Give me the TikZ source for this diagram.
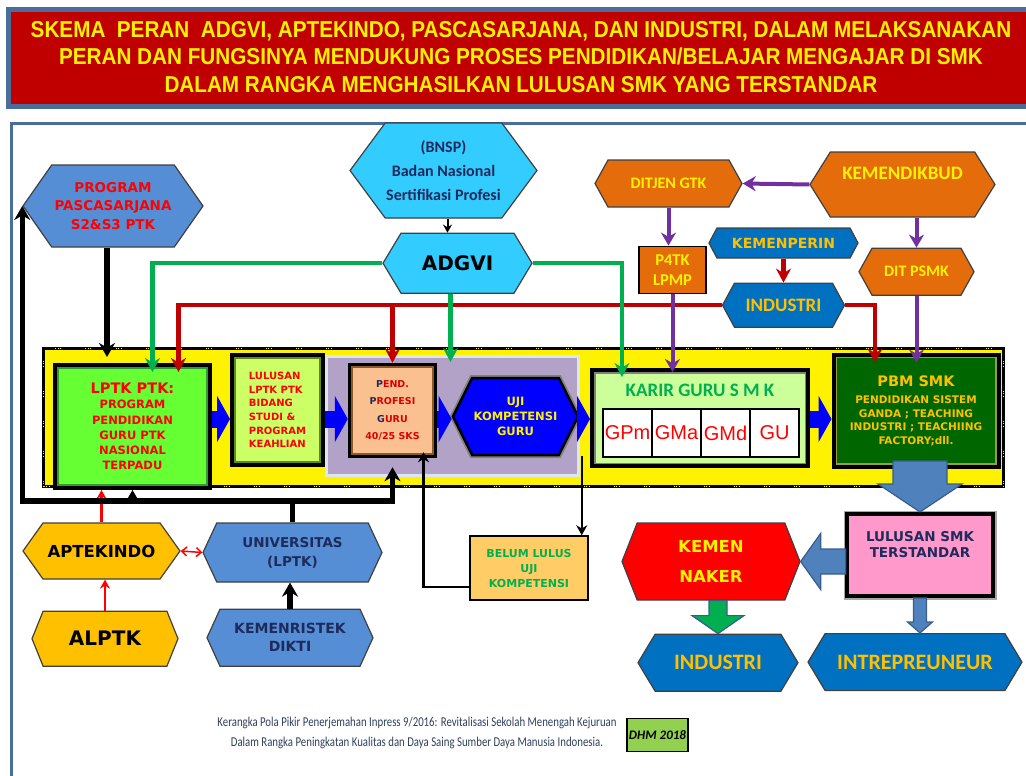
\documentclass[tikz,border=0pt]{standalone}
\usepackage{fontspec}
\usepackage{graphicx}
\setmainfont{DejaVu Sans}
\newfontfamily\calib{Carlito}
\newfontfamily\arialf{Liberation Sans}
\usetikzlibrary{positioning, calc}
\usetikzlibrary{shapes.symbols, arrows.meta}

\newcommand{\fsz}[2]{\fontsize{#1}{#2}\selectfont}

\definecolor{titlered}{HTML}{C00000}
\definecolor{framesteel}{HTML}{4A6D9A}
\definecolor{hexsteel}{HTML}{558ED5}
\definecolor{hexcyan}{HTML}{33CCFF}
\definecolor{hexorange}{HTML}{E46C0A}
\definecolor{hexblue}{HTML}{0070C0}
\definecolor{hexgold}{HTML}{FFC000}
\definecolor{lptkgreen}{HTML}{66FF33}
\definecolor{lptkdark}{HTML}{339933}
\definecolor{limefill}{HTML}{CCFF66}
\definecolor{limedark}{HTML}{5F8A1C}
\definecolor{lilac}{HTML}{B3A2C7}
\definecolor{paleblue}{HTML}{DCE6F2}
\definecolor{peach}{HTML}{FAC090}
\definecolor{peachdark}{HTML}{8B5A2B}
\definecolor{karirfill}{HTML}{CCFF99}
\definecolor{pbmgreen}{HTML}{006600}
\definecolor{pbmedge}{HTML}{9C9C3A}
\definecolor{pinkfill}{HTML}{FF99CC}
\definecolor{belumfill}{HTML}{FFCC66}
\definecolor{dhmgreen}{HTML}{92D050}
\definecolor{linegreen}{HTML}{00B050}
\definecolor{linered}{HTML}{C00000}
\definecolor{linepurple}{HTML}{7030A0}
\definecolor{flowblue}{HTML}{0000FF}
\definecolor{arrowsteel}{HTML}{4F81BD}
\definecolor{arrowedge}{HTML}{385D8A}
\definecolor{navytext}{HTML}{1F2A5C}
\definecolor{footgrey}{HTML}{2E3F5C}

\begin{document}
\begin{tikzpicture}[
        x = 1pt, y = -1pt, % one unit = one pixel, y runs down
        hexa/.style = {signal, signal to = east and west, draw = black!75,
            line width = 1.2pt, inner sep = 1pt, align = center},
        hexsize/.style n args = {3}{minimum width = #1, minimum height = #2,
            signal pointer angle = #3},
        panel/.style = {rectangle, draw = black, align = center, inner sep = 2pt},
        innerline/.style 2 args = {path picture = {\draw[#1, line width = #2]
            (path picture bounding box.south west) rectangle
            (path picture bounding box.north east);}},
        cell/.style = {panel, fill = white, line width = 1.5pt, minimum width = 49pt,
            minimum height = 48pt, inner sep = 0pt, text = red,
            font = \arialf\fsz{20}{22}},
        greenline/.style = {draw = linegreen, line width = 4.5pt,
            -{Stealth[length = 14pt, width = 15pt]}},
        redline/.style = {draw = linered, line width = 4.5pt,
            -{Stealth[length = 14pt, width = 15pt]}},
        purpleline/.style = {draw = linepurple, line width = 4pt,
            -{Stealth[length = 13pt, width = 15pt]}},
        bigblack/.style = {draw = black, line width = 5.5pt,
            -{Stealth[length = 14pt, width = 16pt]}},
        thinblack/.style = {draw = black, line width = 2.5pt,
            -{Stealth[length = 10pt, width = 11pt]}},
        thinred/.style = {draw = red, line width = 2.5pt,
            -{Stealth[length = 9pt, width = 10pt]}},
        flowarrow/.style = {draw = flowblue, line width = 17pt,
            -{Triangle[length = 13pt, width = 46pt]}},
        steelarrow/.style = {fill = arrowsteel, draw = arrowedge, line width = 1.2pt}
    ]

    \useasboundingbox (0,0) rectangle (1026,776);
    \clip (0,0) rectangle (1026,776);

    % title band
    \filldraw[draw = framesteel, line width = 5pt, fill = titlered] (8,10) rectangle (1040,106);
    \node[font = \arialf\bfseries\fsz{23}{27.5}, text = yellow, align = center] (title) at (521,57)
        {\scalebox{0.9}[1]{SKEMA\ \ PERAN\ \ ADGVI, APTEKINDO, PASCASARJANA, DAN INDUSTRI, DALAM MELAKSANAKAN}\\
         \scalebox{0.9}[1]{PERAN DAN FUNGSINYA MENDUKUNG PROSES PENDIDIKAN/BELAJAR MENGAJAR DI SMK}\\
         \scalebox{0.9}[1]{DALAM RANGKA MENGHASILKAN LULUSAN SMK YANG TERSTANDAR}};

    % outer frame
    \draw[framesteel, line width = 3pt] (11,123) rectangle (1040,800);

    % yellow process band and lilac certification zone
    \node[draw = black, line width = 3pt, fill = yellow, minimum width = 960pt, minimum height = 138pt,
        postaction = {draw = yellow, line width = 1.5pt,
            dash pattern = on 1pt off 1.5pt on 1pt off 1.5pt on 1pt off 24pt}] (band) at (523.5,417.5) {};
    \node[draw = paleblue, line width = 3pt, fill = lilac, minimum width = 252pt,
        minimum height = 119pt] (profzone) at (452.5,416) {};

    % upper row
    \node[hexa, hexsize = {180pt}{82pt}{110}, fill = hexsteel, text = red,
        font = \bfseries\fsz{13.5}{18.5}] (pasca) at (113,206) {PROGRAM\\PASCASARJANA\\S2\&S3 PTK};
    \node[hexa, hexsize = {183pt}{95pt}{107}, fill = hexcyan, text = navytext,
        font = \calib\bfseries\fsz{16}{24}] (bnsp) at (443.5,170.5) {(BNSP)\\Badan Nasional\\Sertifikasi Profesi};
    \node[hexa, hexsize = {149pt}{60pt}{118}, fill = hexcyan, text = black,
        font = \bfseries\fsz{20}{24}, below = 14pt of bnsp, xshift = 14pt] (adgvi) {ADGVI};
    \node[hexa, hexsize = {147pt}{47pt}{122}, fill = hexorange, text = yellow,
        font = \calib\bfseries\fsz{16}{19}] (ditjen) at (668.5,183.5) {DITJEN GTK};
    \node[hexa, hexsize = {185pt}{65pt}{116}, fill = hexorange,
        label = {[yshift = 11pt, text = yellow, font = \calib\bfseries\fsz{19}{22}]center:KEMENDIKBUD}]
        (kemdik) at (902.5,184.5) {};
    \node[panel, line width = 1.5pt, fill = hexorange, text = yellow, minimum width = 67pt,
        minimum height = 47pt, font = \calib\bfseries\fsz{16.5}{20},
        below = 38pt of ditjen, xshift = 4pt] (p4tk) {P4TK\\LPMP};
    \node[hexa, hexsize = {149pt}{30pt}{124}, fill = hexblue, text = hexgold,
        font = \bfseries\fsz{14}{16}] (kemenperin) at (783.5,243) {KEMENPERIN};
    \node[hexa, hexsize = {122pt}{44pt}{123}, fill = hexblue, text = hexgold,
        font = \calib\bfseries\fsz{19}{22}, below = 24pt of kemenperin] (indtop) {INDUSTRI};
    \node[hexa, hexsize = {115pt}{47pt}{122}, fill = hexorange, text = yellow,
        font = \calib\bfseries\fsz{16}{19}, below = 30pt of kemdik, xshift = 14pt] (ditpsmk) {DIT PSMK};

    % process row
    \node[panel, line width = 4pt, fill = lptkgreen, innerline = {lptkdark}{8pt},
        minimum width = 155pt, minimum height = 123pt, text = red,
        font = \bfseries\fsz{11.5}{15.2}] (lptk) at (132.5,426.5)
        {{\fsz{14.5}{17}LPTK PTK:}\\PROGRAM\\PENDIDIKAN\\GURU PTK\\NASIONAL\\TERPADU};
    \node[panel, line width = 4pt, fill = limefill, innerline = {limedark}{8pt},
        minimum width = 91pt, minimum height = 110pt, text = red, align = left,
        font = \bfseries\fsz{10}{13.6}] (lulusanl) at (277.5,410)
        {LULUSAN\\LPTK PTK\\BIDANG\\STUDI \&\\PROGRAM\\KEAHLIAN};
    \node[panel, line width = 3.5pt, fill = peach, innerline = {peachdark}{7pt},
        minimum width = 86pt, minimum height = 92pt, text = red!85!black,
        font = \bfseries\fsz{9.5}{17.5}] (pend) at (392.5,410.5)
        {\textcolor{navytext}{P}END.\\\textcolor{navytext}{P}ROFESI\\\textcolor{navytext}{G}URU\\40/25 SKS};
    \node[hexa, hexsize = {125pt}{77pt}{127}, fill = flowblue, draw = black, line width = 2.5pt,
        preaction = {draw = gray, line width = 6pt}, text = yellow,
        font = \bfseries\fsz{11.5}{15}] (uji) at (515.5,416.5) {UJI\\KOMPETENSI\\GURU};
    \node[panel, line width = 4pt, fill = karirfill, innerline = {gray}{7pt},
        minimum width = 216pt, minimum height = 96pt,
        label = {[yshift = 28pt, text = linegreen, font = \calib\bfseries\fsz{19}{20}]center:KARIR GURU S M K}]
        (karir) at (700,418) {};
    \node[cell] (gpm) at (627.6,433) {GPm};
    \node[cell, right = -1.5pt of gpm] (gma) {GMa};
    \node[cell, right = -1.5pt of gma] (gmd) {GMd};
    \node[cell, right = -1.5pt of gmd] (gu) {GU};
    \node[panel, line width = 4pt, fill = pbmgreen, innerline = {pbmedge}{7pt},
        minimum width = 165pt, minimum height = 112pt, text = hexgold,
        font = \bfseries\fsz{10.5}{13.5}] (pbm) at (916,410.5)
        {{\fsz{14.5}{17}PBM SMK}\\[4pt]PENDIDIKAN SISTEM\\GANDA ; TEACHING\\INDUSTRI ; TEACHIING\\FACTORY;dll.};

    % lower left
    \node[hexa, hexsize = {157pt}{56pt}{109}, fill = hexgold, text = black,
        font = \bfseries\fsz{16.5}{19}] (aptek) at (101.5,551) {APTEKINDO};
    \node[hexa, hexsize = {146pt}{55pt}{136}, fill = hexgold, text = black,
        font = \bfseries\fsz{20}{24}, below = 31pt of aptek, xshift = 3.5pt] (alptk) {ALPTK};
    \node[hexa, hexsize = {179pt}{59pt}{130}, fill = hexsteel, text = navytext,
        font = \bfseries\fsz{13.5}{19}] (univ) at (292.5,552.5) {UNIVERSITAS\\(LPTK)};
    \node[hexa, hexsize = {166pt}{57pt}{131}, fill = hexsteel, text = navytext,
        font = \bfseries\fsz{14}{18}, below = 26pt of univ, xshift = -2.5pt] (kemenr) {KEMENRISTEK\\DIKTI};
    \node[panel, line width = 1.5pt, fill = belumfill, minimum width = 118pt, minimum height = 64pt,
        text = linegreen, font = \bfseries\fsz{11}{15}] (belum) at (529,568) {BELUM LULUS\\UJI\\KOMPETENSI};

    % lower right
    \node[panel, line width = 4pt, fill = pinkfill, preaction = {draw = gray!70, line width = 7pt},
        minimum width = 146pt, minimum height = 82pt,
        label = {[yshift = 10pt, text = navytext, align = center,
            font = \bfseries\fsz{13.5}{16}]center:LULUSAN SMK\\TERSTANDAR}] (lulsmk) at (920,555) {};
    \node[hexa, hexsize = {178pt}{77pt}{137}, fill = red, text = yellow,
        font = \bfseries\fsz{16.5}{30}] (naker) at (711,561.5) {KEMEN\\NAKER};
    \node[hexa, hexsize = {160pt}{57pt}{118}, fill = hexblue, text = hexgold,
        font = \calib\bfseries\fsz{22}{24}, below = 33pt of naker, xshift = 7pt] (indbot) {INDUSTRI};
    \node[hexa, hexsize = {214pt}{57pt}{118}, fill = hexblue, text = hexgold,
        font = \calib\bfseries\fsz{22}{24}, below = 35pt of lulsmk, xshift = -5pt] (intrep) {INTREPREUNEUR};

    % footer
    \node[text = footgrey, font = \calib\fsz{13.5}{20}, align = center] (footer) at (417,733)
        {\scalebox{0.8}[1]{Kerangka Pola Pikir Penerjemahan Inpress 9/2016: Revitalisasi Sekolah Menengah Kejuruan}\\
         \scalebox{0.8}[1]{Dalam Rangka Peningkatan Kualitas dan Daya Saing Sumber Daya Manusia Indonesia.}};
    \node[panel, line width = 1.5pt, fill = dhmgreen, minimum width = 58pt, minimum height = 33pt,
        font = \calib\bfseries\itshape\fsz{13}{15}] (dhm) at (657.5,735) {DHM 2018};

    % red lines from industri
    \draw[thinred] (aptek.north) -- (aptek.north |- lptk.south);
    \draw[thinred] (alptk.north) -- (alptk.north |- aptek.south);
    \draw[thinred, line width = 1.5pt, {Straight Barb[length = 5pt, width = 9pt]}-{Straight Barb[length = 5pt, width = 9pt]}]
        (aptek.east) -- (univ.west);
    \draw[redline] (indtop.west) -| ($(lptk.north)+(46,9)$);
    \draw[redline] (pend.north |- indtop.west) -- (pend.north);
    \draw[redline] (indtop.east) -| ($(pbm.north)+(-41,10)$);
    \draw[redline] (kemenperin.south) -- (indtop.north);

    % green lines from ADGVI
    \draw[greenline] (adgvi.west) -| ($(lptk.north)+(20,9)$);
    \draw[greenline] (adgvi.east) -| ($(karir.north west)+(32,9)$);
    \draw[greenline] ($(adgvi.south)+(-7,0)$) -- ($(adgvi.south |- profzone.north)+(-7,7)$);

    % purple lines from KEMENDIKBUD
    \draw[purpleline] (kemdik.west) -- (ditjen.east);
    \draw[purpleline] (ditjen.south) -- (ditjen.south |- p4tk.north);
    \draw[purpleline] (p4tk.south) -- ($(p4tk.south |- karir.north)+(0,4)$);
    \draw[purpleline] (ditpsmk.north |- kemdik.south) -- (ditpsmk.north);
    \draw[purpleline] (ditpsmk.south) -- ($(ditpsmk.south |- pbm.north)+(0,10)$);

    % black lines
    \draw[black, line width = 2pt, -{Stealth[length = 8pt, width = 9pt]}]
        ($(bnsp.south)+(4,0)$) -- ($(bnsp.south |- adgvi.north)+(4,0)$);
    \draw[bigblack] ($(pasca.south)+(-6,0)$) -- ($(pasca.south |- lptk.north)+(-6,-6)$);
    \coordinate (bus) at (0,501);
    \draw[bigblack] (univ.north) -- (univ.north |- bus) -| (pasca.west);
    \draw[bigblack, shorten > = 9pt] (univ.north |- bus) -| (pend.south);
    \draw[bigblack] (lptk.south |- bus) -- (lptk.south);
    \draw[bigblack] (kemenr.north) -- (kemenr.north |- univ.south);
    \coordinate (belumin) at ($(belum.north east)+(-7,0)$);
    \draw[thinblack] (belumin |- uji.south) -- (belumin);
    \draw[thinblack] ($(belum.south west)+(0,-14)$) -| ($(pend.south)+(31,-6)$);

    % blue flow arrows
    \coordinate (flow) at (0,419);
    \draw[flowarrow] (lptk.east |- flow) -- (lulusanl.west |- flow);
    \draw[flowarrow] (lulusanl.east |- flow) -- (pend.west |- flow);
    \draw[flowarrow] (pend.east |- flow) -- (uji.west |- flow);
    \draw[flowarrow] (uji.east |- flow) -- (karir.west |- flow);
    \draw[flowarrow] (karir.east |- flow) -- (pbm.west |- flow);

    % block arrows to the graduates and beyond
    \filldraw[steelarrow] (lulsmk.north) -- ++(-42,-28) -- ++(15,0) -- ++(0,-23)
        -- ++(54,0) -- ++(0,23) -- ++(15,0) -- cycle;
    \filldraw[steelarrow] (naker.east) -- ++(20,-28) -- ++(0,15.5) -- ++(25,0)
        -- ++(0,25) -- ++(-25,0) -- ++(0,15.5) -- cycle;
    \filldraw[steelarrow, fill = linegreen] (indbot.north) -- ++(-26,-18) -- ++(17,0) -- ++(0,-15)
        -- ++(18,0) -- ++(0,15) -- ++(17,0) -- cycle;
    \filldraw[steelarrow] (lulsmk.south |- intrep.north) -- ++(-12.5,-11) -- ++(6,0) -- ++(0,-24)
        -- ++(13,0) -- ++(0,24) -- ++(6,0) -- cycle;
\end{tikzpicture}
\end{document}
